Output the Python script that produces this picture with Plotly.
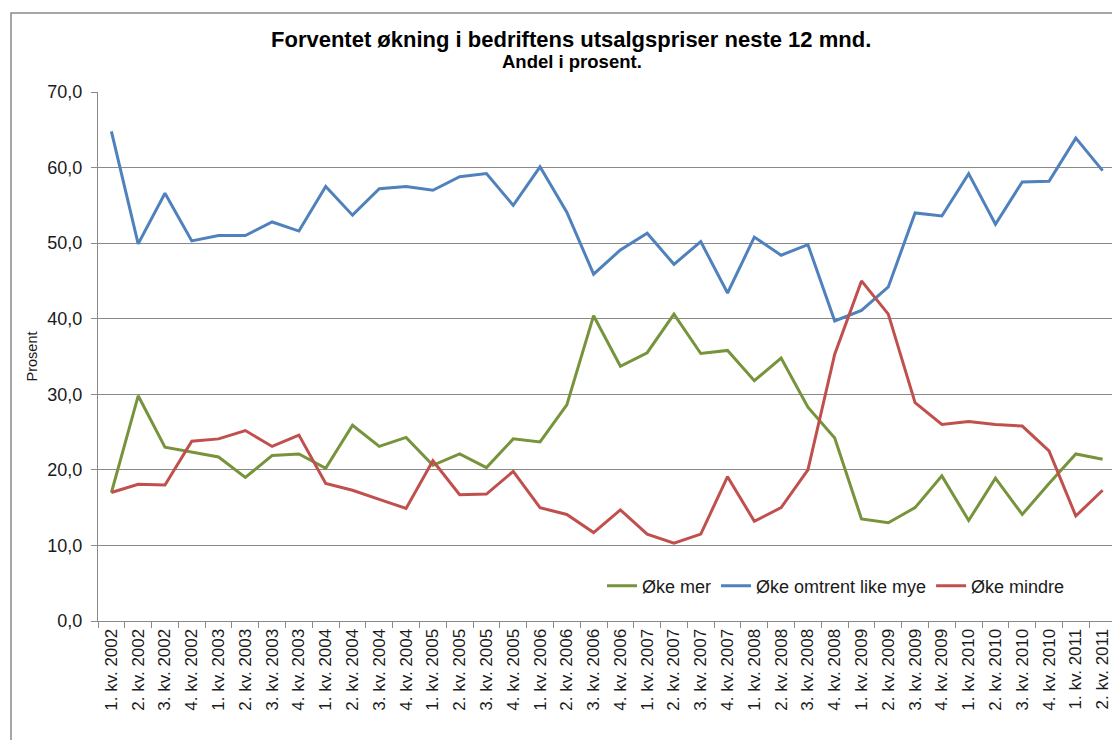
import plotly.graph_objects as go

categories = [f"{q}. kv. {y}" for y in range(2002, 2012) for q in range(1, 5)][:38]

oke_mer = [17.0, 29.8, 23.0, 22.4, 21.7, 19.0, 21.9, 22.1, 20.2, 25.9, 23.1, 24.3, 20.6, 22.1, 20.3, 24.1,
           23.7, 28.6, 40.4, 33.7, 35.5, 40.6, 35.4, 35.8, 31.8, 34.8, 28.3, 24.2, 13.5, 13.0, 15.0, 19.2,
           13.3, 18.9, 14.1, 18.2, 22.1, 21.4]
oke_like = [64.8, 49.9, 56.6, 50.3, 51.0, 51.0, 52.8, 51.6, 57.5, 53.7, 57.2, 57.5, 57.0, 58.8, 59.2, 55.0,
            60.1, 54.1, 45.9, 49.1, 51.3, 47.2, 50.2, 43.4, 50.8, 48.4, 49.8, 39.7, 41.1, 44.2, 54.0, 53.6,
            59.2, 52.5, 58.1, 58.2, 63.9, 59.6]
oke_mindre = [17.0, 18.1, 18.0, 23.8, 24.1, 25.2, 23.1, 24.6, 18.2, 17.3, 16.1, 14.9, 21.2, 16.7, 16.8, 19.8,
              15.0, 14.1, 11.7, 14.7, 11.5, 10.3, 11.5, 19.1, 13.2, 15.0, 20.0, 35.3, 45.0, 40.6, 28.9, 26.0,
              26.4, 26.0, 25.8, 22.5, 13.9, 17.3]

series = [("Øke mer", oke_mer, "#77933C"),
          ("Øke omtrent like mye", oke_like, "#4F81BD"),
          ("Øke mindre", oke_mindre, "#C0504D")]

fig = go.Figure()
for name, vals, col in series:
    fig.add_trace(go.Scatter(x=categories, y=vals, name=name, mode="lines",
                             line=dict(color=col, width=3)))

# page body has an 8px margin; coordinates below are screen pixels
OFF = 8
W, H = 1120 - OFF, 740 - OFF
PL, PR, PT, PB = 98, 1116, 92, 621          # plot area on screen
L, R, T, B = PL - OFF, W - (PR - OFF), PT - OFF, H - (PB - OFF)
pw, ph = W - L - R, H - T - B

def px(x):
    return (x - OFF - L) / pw

def py(y):
    return (H - B - (y - OFF)) / ph

GRID = "#898989"
fig.update_layout(
    width=W, height=H,
    margin=dict(l=L, r=R, t=T, b=B),
    paper_bgcolor="white", plot_bgcolor="white",
    separators=", ",
    font=dict(family="Arial, Liberation Sans, sans-serif", color="#1a1a1a"),
    showlegend=True,
    legend=dict(orientation="h", x=px(602), y=py(586), xanchor="left", yanchor="middle",
                font=dict(size=18), bgcolor="rgba(0,0,0,0)"),
    xaxis=dict(type="category", range=[-0.5, 37.5], tickangle=-90, tickson="boundaries",
               ticks="outside", ticklen=6, tickcolor=GRID, showline=True, linecolor=GRID,
               showgrid=False, tickfont=dict(size=17), fixedrange=True),
    yaxis=dict(range=[0, 70], dtick=10, tickformat=".1f", ticks="outside", ticklen=6,
               tickcolor=GRID, showline=True, linecolor=GRID, showgrid=True,
               gridcolor=GRID, gridwidth=1, tickfont=dict(size=18), zeroline=False,
               ticklabelstandoff=5,
               title=dict(text="Prosent", font=dict(size=14.5), standoff=6)),
    annotations=[
        dict(text="<b>Forventet økning i bedriftens utsalgspriser neste 12 mnd.</b>", xref="paper", yref="paper",
             x=px(571), y=py(40), showarrow=False, xanchor="center", yanchor="middle",
             font=dict(size=22, family="Arial", color="#000000")),
        dict(text="<b>Andel i prosent.</b>", xref="paper", yref="paper",
             x=px(572), y=py(61), showarrow=False, xanchor="center", yanchor="middle",
             font=dict(size=18.5, family="Arial", color="#000000")),
    ],
    shapes=[dict(type="rect", xref="paper", yref="paper", x0=px(11), y0=py(780), x1=px(1160), y1=py(13),
                 line=dict(color=GRID, width=1.5), layer="below")],
)

fig.write_html("out.html")
